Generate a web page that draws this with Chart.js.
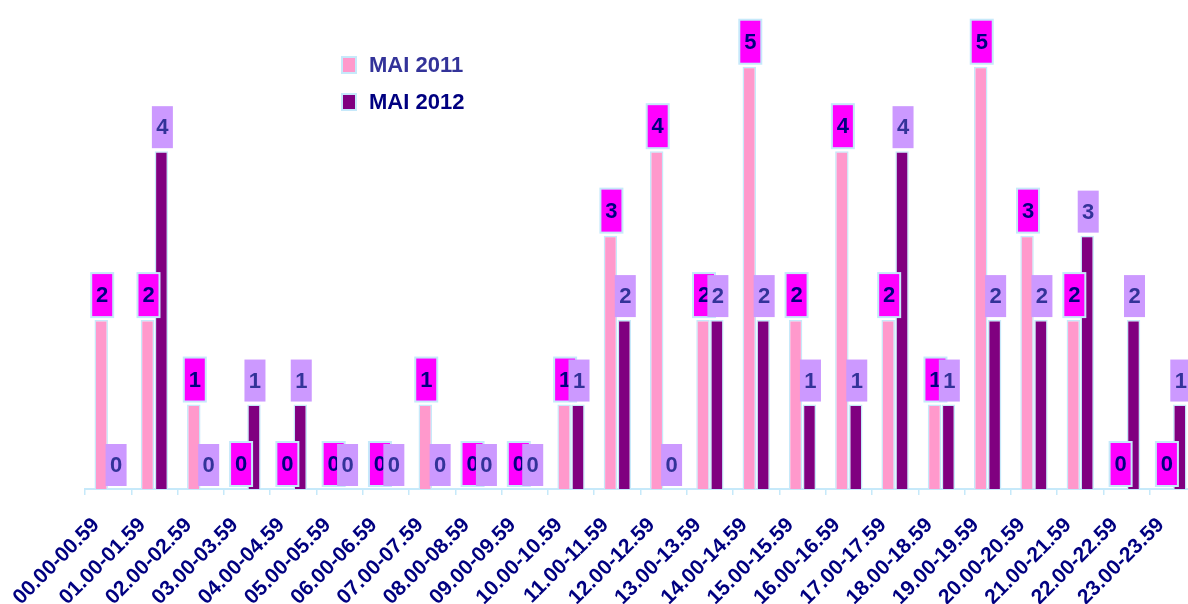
<!DOCTYPE html>
<html>
<head>
<meta charset="utf-8">
<script src="https://cdn.jsdelivr.net/npm/chart.js@4.4.1/dist/chart.umd.min.js"></script>
<style>
  html, body { margin: 0; padding: 0; background: #fff; overflow: hidden; }
  #wrap { width: 1188px; height: 604px; overflow: hidden; }
</style>
</head>
<body>
<div id="wrap"><canvas id="chart" width="1196" height="604"></canvas></div>
<script>
const categories = [
  '00.00-00.59', '01.00-01.59', '02.00-02.59', '03.00-03.59', '04.00-04.59', '05.00-05.59',
  '06.00-06.59', '07.00-07.59', '08.00-08.59', '09.00-09.59', '10.00-10.59', '11.00-11.59',
  '12.00-12.59', '13.00-13.59', '14.00-14.59', '15.00-15.59', '16.00-16.59', '17.00-17.59',
  '18.00-18.59', '19.00-19.59', '20.00-20.59', '21.00-21.59', '22.00-22.59', '23.00-23.59'
];
const mai2011 = [2, 2, 1, 0, 0, 0, 0, 1, 0, 0, 1, 3, 4, 2, 5, 2, 4, 2, 1, 5, 3, 2, 0, 0];
const mai2012 = [0, 4, 0, 1, 1, 0, 0, 0, 0, 0, 1, 2, 0, 2, 2, 1, 1, 4, 1, 2, 2, 3, 2, 1];
const seriesNames = ['MAI 2011', 'MAI 2012'];

const FONT = '"Liberation Sans", Arial, sans-serif';
const edge = '#c6e9fa';

// value labels drawn as filled boxes above each bar
const valueBoxes = {
  id: 'valueBoxes',
  afterDatasetsDraw(chart) {
    const ctx = chart.ctx;
    const styles = [
      { fill: '#ff00ff', stroke: edge, text: '#000080', w: 22, h: 44 },
      { fill: '#cc99ff', stroke: null, text: '#333399', w: 21, h: 42 }
    ];
    chart.data.datasets.forEach((ds, i) => {
      const meta = chart.getDatasetMeta(i);
      const s = styles[i];
      meta.data.forEach((bar, j) => {
        const left = bar.x - s.w / 2 + 1;
        const top = bar.y - 3 - s.h;
        ctx.save();
        ctx.fillStyle = s.fill;
        ctx.fillRect(left, top, s.w, s.h);
        if (s.stroke) {
          ctx.strokeStyle = s.stroke;
          ctx.lineWidth = 2;
          ctx.strokeRect(left, top, s.w, s.h);
        }
        ctx.fillStyle = s.text;
        ctx.font = 'bold 22px ' + FONT;
        ctx.textAlign = 'center';
        ctx.textBaseline = 'middle';
        ctx.fillText(String(ds.data[j]), left + s.w / 2, top + s.h / 2 + 1);
        ctx.restore();
      });
    });
  }
};

const floatingLegend = {
  id: 'floatingLegend',
  afterDraw(chart) {
    const ctx = chart.ctx;
    const textColors = ['#333399', '#000080'];
    const rows = [65, 102];
    chart.data.datasets.forEach((ds, i) => {
      const y = rows[i];
      ctx.save();
      ctx.fillStyle = ds.backgroundColor;
      ctx.fillRect(342, y - 8, 14, 16);
      ctx.strokeStyle = edge;
      ctx.lineWidth = 2;
      ctx.strokeRect(342, y - 8, 14, 16);
      ctx.fillStyle = textColors[i];
      ctx.font = 'bold 22px ' + FONT;
      ctx.textBaseline = 'middle';
      ctx.fillText(ds.label, 369, y + 1);
      ctx.restore();
    });
  }
};

new Chart(document.getElementById('chart'), {
  type: 'bar',
  data: {
    labels: categories,
    datasets: [
      { label: seriesNames[0], data: mai2011, backgroundColor: '#ff99cc', borderColor: edge, borderWidth: 1.5 },
      { label: seriesNames[1], data: mai2012, backgroundColor: '#800080', borderColor: edge, borderWidth: 1.5 }
    ]
  },
  options: {
    responsive: false,
    animation: false,
    layout: { padding: 0 },
    datasets: { bar: { categoryPercentage: 0.6, barPercentage: 0.97 } },
    plugins: { legend: { display: false }, tooltip: { enabled: false } },
    scales: {
      x: {
        offset: true,
        border: { color: edge, width: 2 },
        grid: { offset: true, drawOnChartArea: false, drawTicks: true, tickLength: 6, color: edge, lineWidth: 1.5 },
        ticks: {
          autoSkip: false, minRotation: 45, maxRotation: 45, padding: 18, labelOffset: -12,
          color: '#000080', font: { family: FONT, size: 21, weight: 'bold' }
        },
        afterFit(scale) {
          scale.height = 115;
          scale.paddingLeft = 85;
          scale.paddingRight = 0;
        }
      },
      y: { display: false, min: 0, max: 5.79 }
    }
  },
  plugins: [valueBoxes, floatingLegend]
});
</script>
</body>
</html>
